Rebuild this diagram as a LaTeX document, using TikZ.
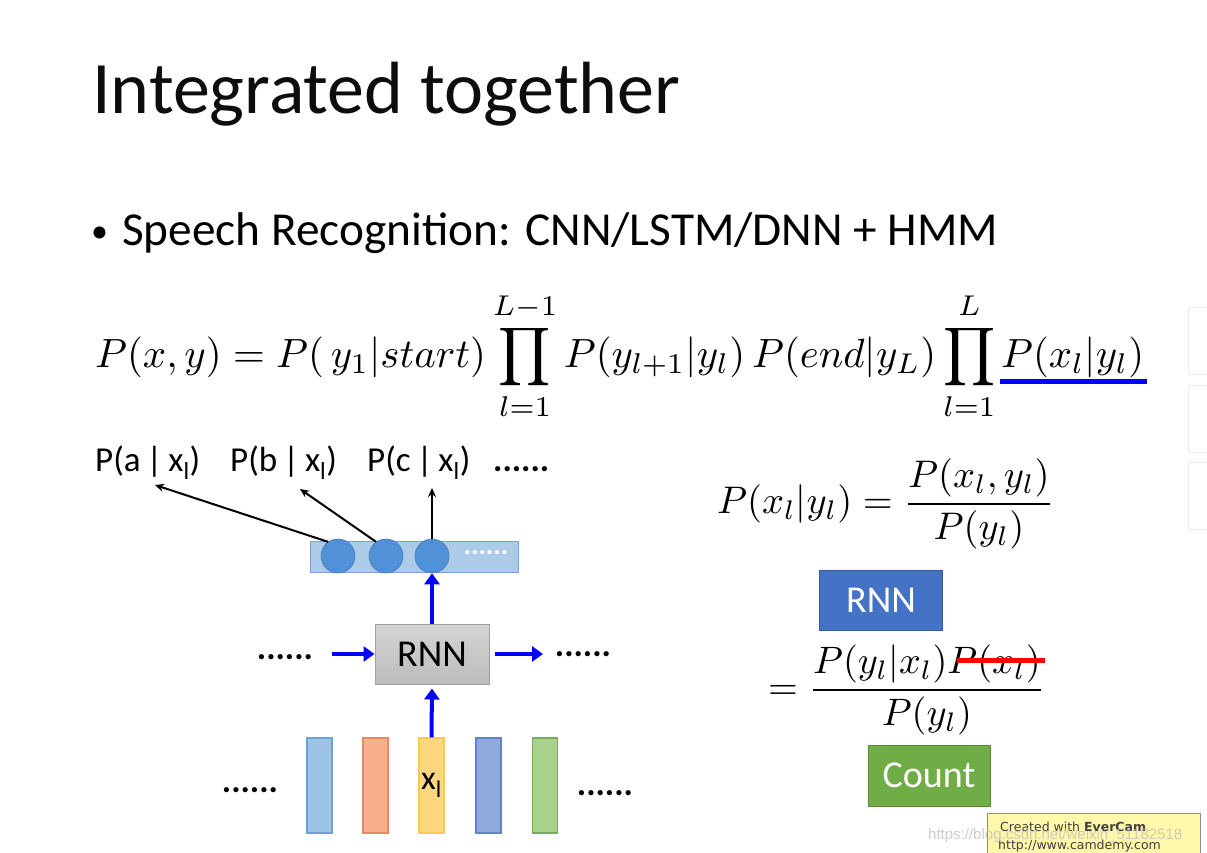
\documentclass[tikz,border=0pt]{standalone}
\usepackage{graphicx}
\usepackage{fontspec}
\setmainfont{Carlito}
\newfontfamily\evfont{DejaVu Sans}
\newfontfamily\wmfont{Liberation Sans}
\usetikzlibrary{arrows.meta}
\definecolor{titlecol}{RGB}{13,13,13}
\definecolor{barfill}{RGB}{157,195,230}
\definecolor{barline}{RGB}{120,160,215}
\definecolor{circfill}{RGB}{80,145,215}
\definecolor{rnntop}{RGB}{212,212,212}
\definecolor{rnnbot}{RGB}{188,188,188}
\definecolor{rnnline}{RGB}{160,160,160}
\definecolor{vblue}{RGB}{157,195,230}
\definecolor{vblueline}{RGB}{110,160,215}
\definecolor{vsalmon}{RGB}{248,176,140}
\definecolor{vsalmonline}{RGB}{225,140,100}
\definecolor{vyellow}{RGB}{255,214,128}
\definecolor{vyellowline}{RGB}{250,200,90}
\definecolor{vdblue}{RGB}{143,170,220}
\definecolor{vdblueline}{RGB}{100,130,200}
\definecolor{vgreen}{RGB}{169,209,142}
\definecolor{vgreenline}{RGB}{120,170,95}
\definecolor{boxblue}{RGB}{68,114,196}
\definecolor{boxgreen}{RGB}{112,173,71}
\definecolor{evfill}{RGB}{255,248,170}
\begin{document}
\begin{tikzpicture}[x=1pt,y=-1pt,
  blk/.style={draw=black,line width=2pt,-{Stealth[length=9pt,width=8pt]}},
  blu/.style={draw=blue,line width=4pt,-{Triangle[length=11pt,width=15pt]}},
  lab/.style={font=\fontsize{35}{38}\selectfont,inner sep=0pt,anchor=base west},
  dots/.style={font=\fontsize{35}{40}\selectfont\bfseries,inner sep=0pt},
  neuron/.style={circle,fill=circfill,draw=circfill!85!black,line width=0.6pt,minimum size=34pt,inner sep=0pt},
  vec/.style={rectangle,minimum width=25pt,minimum height=95pt,inner sep=0pt,line width=1.2pt},
  mathn/.style={inner sep=0pt},
  colbox/.style={rectangle,minimum width=123pt,minimum height=60pt,inner sep=0pt,text=white,font=\fontsize{38}{42}\selectfont}
]
\useasboundingbox (0,0) rectangle (1207,852);
\fill[white] (0,0) rectangle (1207,852);

% title
\node[inner sep=0pt,anchor=base west,text=titlecol,font=\fontsize{74}{80}\selectfont] (title) at (92,113) {Integrated together};
% bullet
\node[inner sep=0pt,anchor=base west,font=\fontsize{34}{40}\selectfont] (bul) at (91,242) {\textbullet};
\node[inner sep=0pt,anchor=base west,font=\fontsize{47.3}{50}\selectfont] (sub) at (122,245) {Speech Recognition: CNN/LSTM/DNN + HMM};

% main equation
\node[mathn,anchor=base west] (eq1) at (95,367)
 {\resizebox{900pt}{!}{$\displaystyle P(x,y)=P(\,y_1|start)\prod_{l=1}^{L-1}P(y_{l+1}|y_l)\,P(end|y_L)\prod_{l=1}^{L}$}};
\node[mathn,anchor=base west] (eq2) at (1001,367) {\resizebox{143pt}{!}{$P(x_l|y_l)$}};
\coordinate (ul1) at (1000,381);
\coordinate (ul2) at (1147,381);
\draw[blue,line width=5pt] (ul1) -- (ul2);

% output labels
\node[lab] (la) at (95,471) {P(a\,|\,x\textsubscript{l})};
\node[lab] (lb) at (230,471) {P(b\,|\,x\textsubscript{l})};
\node[lab] (lc) at (367,471) {P(c\,|\,x\textsubscript{l})};
\node[dots,anchor=base west] (ldots) at (493,471) {......};

% output layer
\node[rectangle,fill=barfill,fill opacity=0.85,draw=barline,line width=0.8pt,minimum width=208pt,minimum height=31pt,inner sep=0pt] (bar) at (414,556.5) {};
\node[neuron] (c1) at (338,556) {};
\node[neuron] (c2) at (386,556) {};
\node[neuron] (c3) at (432,556) {};
\node[dots,text=white,font=\fontsize{28}{30}\selectfont\bfseries] (bdots) at (486,553) {......};

\coordinate (ta) at (155,485);
\coordinate (tb) at (300,489);
\coordinate (tc) at (432,488);
\draw[blk] (c1.125) -- (ta);
\draw[blk] (c2.125) -- (tb);
\draw[blk] (c3.north) -- (tc);

% RNN
\node[rectangle,top color=rnntop,bottom color=rnnbot,draw=rnnline,line width=1pt,minimum width=114pt,minimum height=60pt,inner sep=0pt,font=\fontsize{38}{40}\selectfont] (rnn) at (432,654) {RNN};
\draw[blu] (rnn.north) -- (c3.south);

\node[dots] (ldl) at (285,657) {......};
\node[dots] (ldr) at (583,654) {......};
\coordinate (al) at (332,654);
\coordinate (ar) at (543,654);
\draw[blu] (al) -- (rnn.west);
\draw[blu] ([xshift=5pt]rnn.east) -- (ar);

% input vectors
\node[vec,fill=vblue,draw=vblueline] (v1) at (319.5,785.5) {};
\node[vec,fill=vsalmon,draw=vsalmonline] (v2) at (375.5,785.5) {};
\node[vec,fill=vyellow,draw=vyellowline,font=\fontsize{34}{36}\selectfont] (v3) at (431.5,785.5) {\raisebox{4pt}{x\textsubscript{l}}};
\node[vec,fill=vdblue,draw=vdblueline] (v4) at (488.5,785.5) {};
\node[vec,fill=vgreen,draw=vgreenline] (v5) at (545,785.5) {};
\draw[blu,shorten >=4pt] (v3.north) -- (rnn.south);
\node[dots] (idl) at (250,790) {......};
\node[dots] (idr) at (605,793) {......};

% right side
\node[mathn,anchor=west] (eqa) at (717,504)
 {\resizebox{337pt}{!}{$\displaystyle P(x_l|y_l)=\frac{P(x_l,y_l)}{P(y_l)}$}};
\node[colbox,fill=boxblue,draw=boxblue!80!black] (rnnb) at (881,600) {RNN};
\node[mathn,anchor=west] (eqb) at (768,690)
 {\resizebox{277pt}{!}{$\displaystyle =\frac{P(y_l|x_l)P(x_l)}{P(y_l)}$}};
\coordinate (s1) at (957,660);
\coordinate (s2) at (1045,660);
\draw[red,line width=5pt] (s1) -- (s2);
\node[colbox,fill=boxgreen,draw=boxgreen!80!black,minimum width=122pt,minimum height=61pt] (cnt) at (929,775.5) {Count};

% sidebar artifacts
\foreach \yy/\nm in {307/sa,385/sb,462/sc}{
  \node[rectangle,draw=black!8,fill=white,minimum width=30pt,minimum height=67pt,anchor=north west,inner sep=0pt] (\nm) at (1188,\yy) {};
}

% EverCam badge
\node[rectangle,fill=evfill,draw=black!45,line width=1pt,minimum width=213pt,minimum height=42pt,anchor=north west,inner sep=0pt] (ev) at (987,813) {};
\node[inner sep=0pt,anchor=base west,font=\evfont\fontsize{12.5}{14}\selectfont,text=black!75] (ev1) at (1000,831) {Created with \textbf{EverCam}};
\node[inner sep=0pt,anchor=base west,font=\evfont\fontsize{12.5}{14}\selectfont,text=black!75] (ev2) at (998,849) {http://www.camdemy.com};
\node[inner sep=0pt,anchor=base west,font=\wmfont\fontsize{15}{16}\selectfont,text=black!25,opacity=0.8] (wm) at (928,839) {https://blog.csdn.net/weixin\_51182518};
\end{tikzpicture}
\end{document}
